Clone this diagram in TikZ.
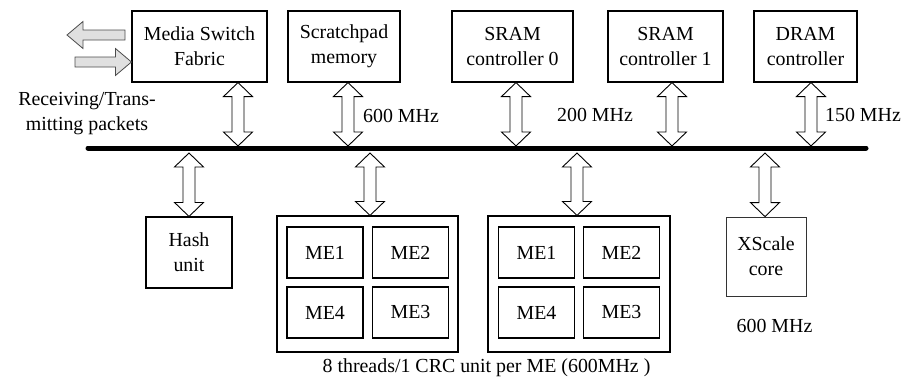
\documentclass[tikz,border=0pt]{standalone}
\usepackage{fontspec}
\setmainfont{Liberation Serif}
\usetikzlibrary{calc}
\tikzset{
  unitbox/.style={draw, line width=1.1pt, align=center, inner sep=0pt},
  mebox/.style={draw, line width=1.4pt, minimum width=76pt, minimum height=51pt, inner sep=0pt},
  label/.style={inner sep=0pt, align=center},
  % vertical hollow double-headed arrow between the bus and a unit
  busarrow/.style={draw, line width=0.9pt, fill=white, line join=miter,
    to path={let \p1=(\tikztostart), \p2=(\tikztotarget),
      \n1={sign(\y1-\y2)} in
      (\x1,\y1) -- (\x1+14.5pt,\y1-\n1*14pt) -- (\x1+6pt,\y1-\n1*14pt)
      -- (\x1+6pt,\y2+\n1*14pt) -- (\x1+14.5pt,\y2+\n1*14pt) -- (\x1,\y2)
      -- (\x1-14.5pt,\y2+\n1*14pt) -- (\x1-6pt,\y2+\n1*14pt)
      -- (\x1-6pt,\y1-\n1*14pt) -- (\x1-14.5pt,\y1-\n1*14pt) -- cycle}},
  % horizontal grey packet arrow
  pktarrow/.style={draw=black!70, line width=0.8pt, fill=black!12, line join=miter,
    to path={let \p1=(\tikztostart), \p2=(\tikztotarget),
      \n1={sign(\x2-\x1)} in
      (\x1,\y1+5pt) -- (\x2-\n1*16pt,\y1+5pt) -- (\x2-\n1*16pt,\y1+13.5pt)
      -- (\x2,\y1) -- (\x2-\n1*16pt,\y1-13.5pt) -- (\x2-\n1*16pt,\y1-5pt)
      -- (\x1,\y1-5pt) -- cycle}}
}
\begin{document}
\begin{tikzpicture}[x=1pt,y=-1pt,font=\fontsize{19.9}{25}\selectfont]
\useasboundingbox (0,0) rectangle (902,380);

% top row of units
\node[unitbox, minimum width=135pt, minimum height=71pt] (msf) at (199.5,46.5) {Media Switch\\Fabric};
\node[unitbox, minimum width=112pt, minimum height=71pt] (scratch) at (344,46.5) {Scratchpad\\memory};
\node[unitbox, minimum width=121pt, minimum height=71pt] (sram0) at (512.5,46.5) {SRAM\\controller 0};
\node[unitbox, minimum width=115pt, minimum height=71pt] (sram1) at (665.5,46.5) {SRAM\\controller 1};
\node[unitbox, minimum width=103pt, minimum height=71pt] (dram) at (805.5,46.5) {DRAM\\controller};

% bottom row of units
\node[unitbox, minimum width=86pt, minimum height=71pt] (hash) at (189,252.5) {Hash\\unit};
\node[draw, line width=1.1pt, minimum width=181pt, minimum height=136pt] (grpA) at (367.5,284) {};
\node[draw, line width=1.1pt, minimum width=182pt, minimum height=136pt] (grpB) at (579,284) {};
\node[unitbox, draw=black!80, line width=0.8pt, minimum width=80pt, minimum height=79pt] (xscale) at (766,256.5) {XScale\\core};

% microengines
\node[mebox] (a1) at (325,252.5) {ME1};
\node[mebox] (a2) at (410.5,252.5) {ME2};
\node[mebox] (a4) at (325,312.5) {ME4};
\node[mebox] (a3) at (410.5,312.5) {ME3};
\node[mebox] (b1) at (536.5,252.5) {ME1};
\node[mebox] (b2) at (621.5,252.5) {ME2};
\node[mebox] (b4) at (536.5,312.5) {ME4};
\node[mebox] (b3) at (621.5,312.5) {ME3};

% internal bus
\coordinate (busL) at (88,148);
\coordinate (busR) at (866,148);
\draw[line width=5pt, line cap=round] (busL) -- (busR);

% attachment points on the bus
\coordinate (t1) at (238,146);
\coordinate (t2) at (348,146);
\coordinate (t3) at (516,146);
\coordinate (t4) at (672,146);
\coordinate (t5) at (811,146);
\coordinate (u1) at (189,153);
\coordinate (u2) at (370,153);
\coordinate (u3) at (577,153);
\coordinate (u4) at (765,153);

\draw[busarrow] (msf.south -| t1) to (t1);
\draw[busarrow] (scratch.south -| t2) to (t2);
\draw[busarrow] (sram0.south -| t3) to (t3);
\draw[busarrow] (sram1.south -| t4) to (t4);
\draw[busarrow] (dram.south -| t5) to (t5);
\draw[busarrow] (u1) to (u1 |- hash.north);
\draw[busarrow] (u2) to (u2 |- grpA.north);
\draw[busarrow] (u3) to (u3 |- grpB.north);
\draw[busarrow] (u4) to (u4 |- xscale.north);

% packet arrows
\coordinate (outTail) at (125,35);
\coordinate (outTip) at (67,35);
\coordinate (inTail) at (75,62);
\coordinate (inTip) at (msf.west |- inTail);
\draw[pktarrow] (outTail) to (outTip);
\draw[pktarrow] (inTail) to (inTip);

% labels
\node[label] (rx) at (87,113.5) {Receiving/Trans-\\mitting packets};
\node[label] (f1) at (401,116) {600 MHz};
\node[label] (f2) at (595,115) {200 MHz};
\node[label] (f3) at (863,115) {150 MHz};
\node[label] (f4) at (774.5,326) {600 MHz};
\node[label] (crc) at (486.5,368) {8 threads/1 CRC unit per ME (600MHz )};
\end{tikzpicture}
\end{document}
